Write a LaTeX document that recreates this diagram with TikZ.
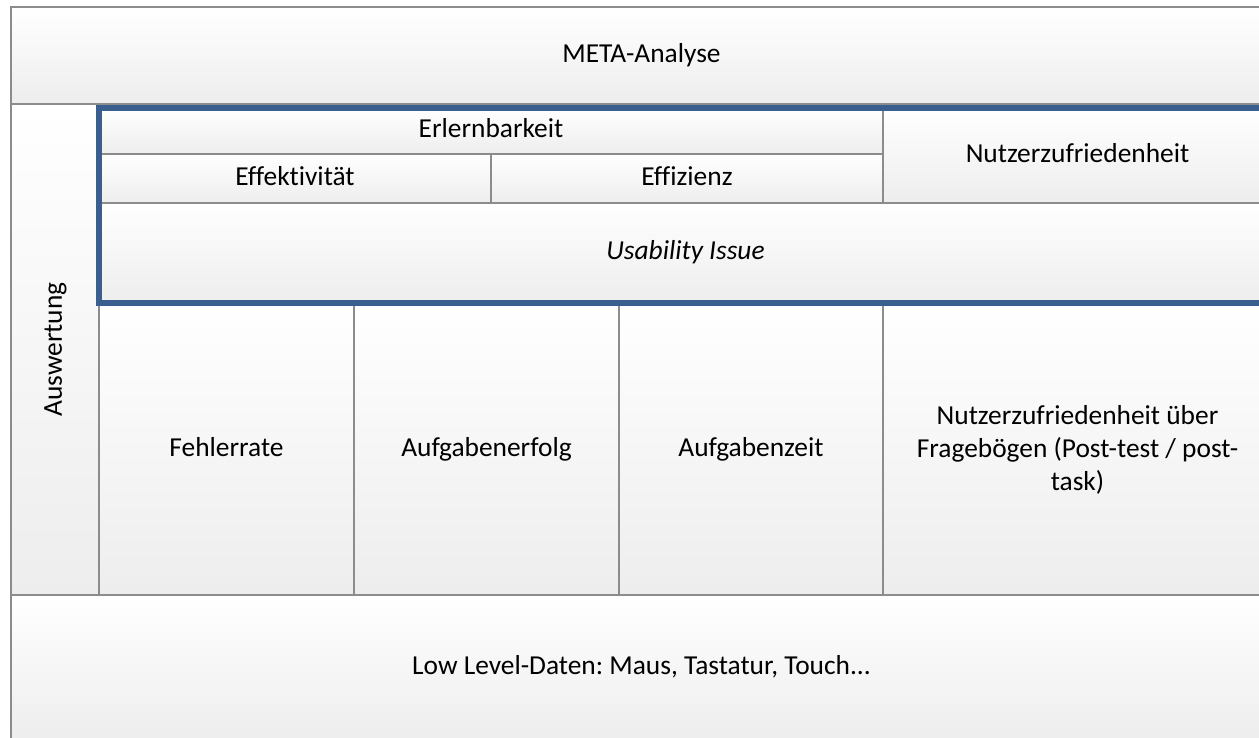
\documentclass[tikz,border=0pt]{standalone}
\usepackage{fontspec}
\setmainfont{Carlito}[Ligatures=NoCommon]
\usetikzlibrary{positioning, fit}
\definecolor{cellgray}{HTML}{8C8C8C}
\definecolor{issueblue}{HTML}{3A5F8F}
\tikzset{
	every text node part/.style= {
		align=center
	},
	cell/.style= {
		rectangle,
		draw=cellgray,
		line width=1pt,
		top color=white,
		bottom color=black!7,
		inner sep=0,
		outer sep=0
	},
	celltext/.style= {
		font=\fontsize{13.7}{16.5}\selectfont
	},
	oneline/.style= {
		celltext,
		text height=0.9em,
		text depth=0.22em
	},
	issueframe/.style= {
		rectangle,
		draw=issueblue,
		line width=2.7pt,
		inner sep=0,
		outer sep=0
	},
}

\begin{document}
\frenchspacing
\begin{tikzpicture}[x=0.5pt, y=-0.5pt]
	
	\useasboundingbox (0,0) rectangle (1259,738);
	\clip (0,0) rectangle (1259,738);
	
	% top and bottom bands
	\node (meta)[cell, fit={(11,7) (1272,104)}, label={[oneline]center:META-Analyse}] {};
	\node (low)[cell, fit={(11,595) (1272,741)}, label={[oneline]center:Low Level-Daten: Maus, Tastatur, Touch...}] {};
	
	\node (ausw)[cell, fit={(11,104) (99,595)}, label={[oneline, rotate=90]center:Auswertung}] {};
	
	% criteria
	\node (erl)[cell, fit={(99,108) (883,154)}, label={[oneline]center:Erlernbarkeit}] {};
	\node (eff)[cell, fit={(99,154) (491,203)}, label={[oneline]center:Effektivität}] {};
	\node (effz)[cell, fit={(491,154) (883,203)}, label={[oneline]center:Effizienz}] {};
	\node (nutz)[cell, fit={(883,108) (1272,203)}, label={[oneline]center:Nutzerzufriedenheit}] {};
	\node (issue)[cell, fit={(99,203) (1272,303)}, label={[oneline]center:\itshape Usability Issue}] {};
	
	% measures
	\foreach \name/\xa/\xb/\txt in {fehler/99/354/Fehlerrate, erfolg/354/619/Aufgabenerfolg, zeit/619/883/Aufgabenzeit}
	{
		\node (\name)[cell, fit={(\xa,305) (\xb,595)}, label={[oneline]center:\txt}] {};
	}
	\node (frage)[cell, fit={(883,305) (1272,595)}, label={[celltext]center:{Nutzerzufriedenheit über\\Fragebögen (Post-test / post-\\task)}}] {};
	
	\node (frame)[issueframe, fit=(erl)(nutz)(issue)] {};
	
\end{tikzpicture}
\end{document}
